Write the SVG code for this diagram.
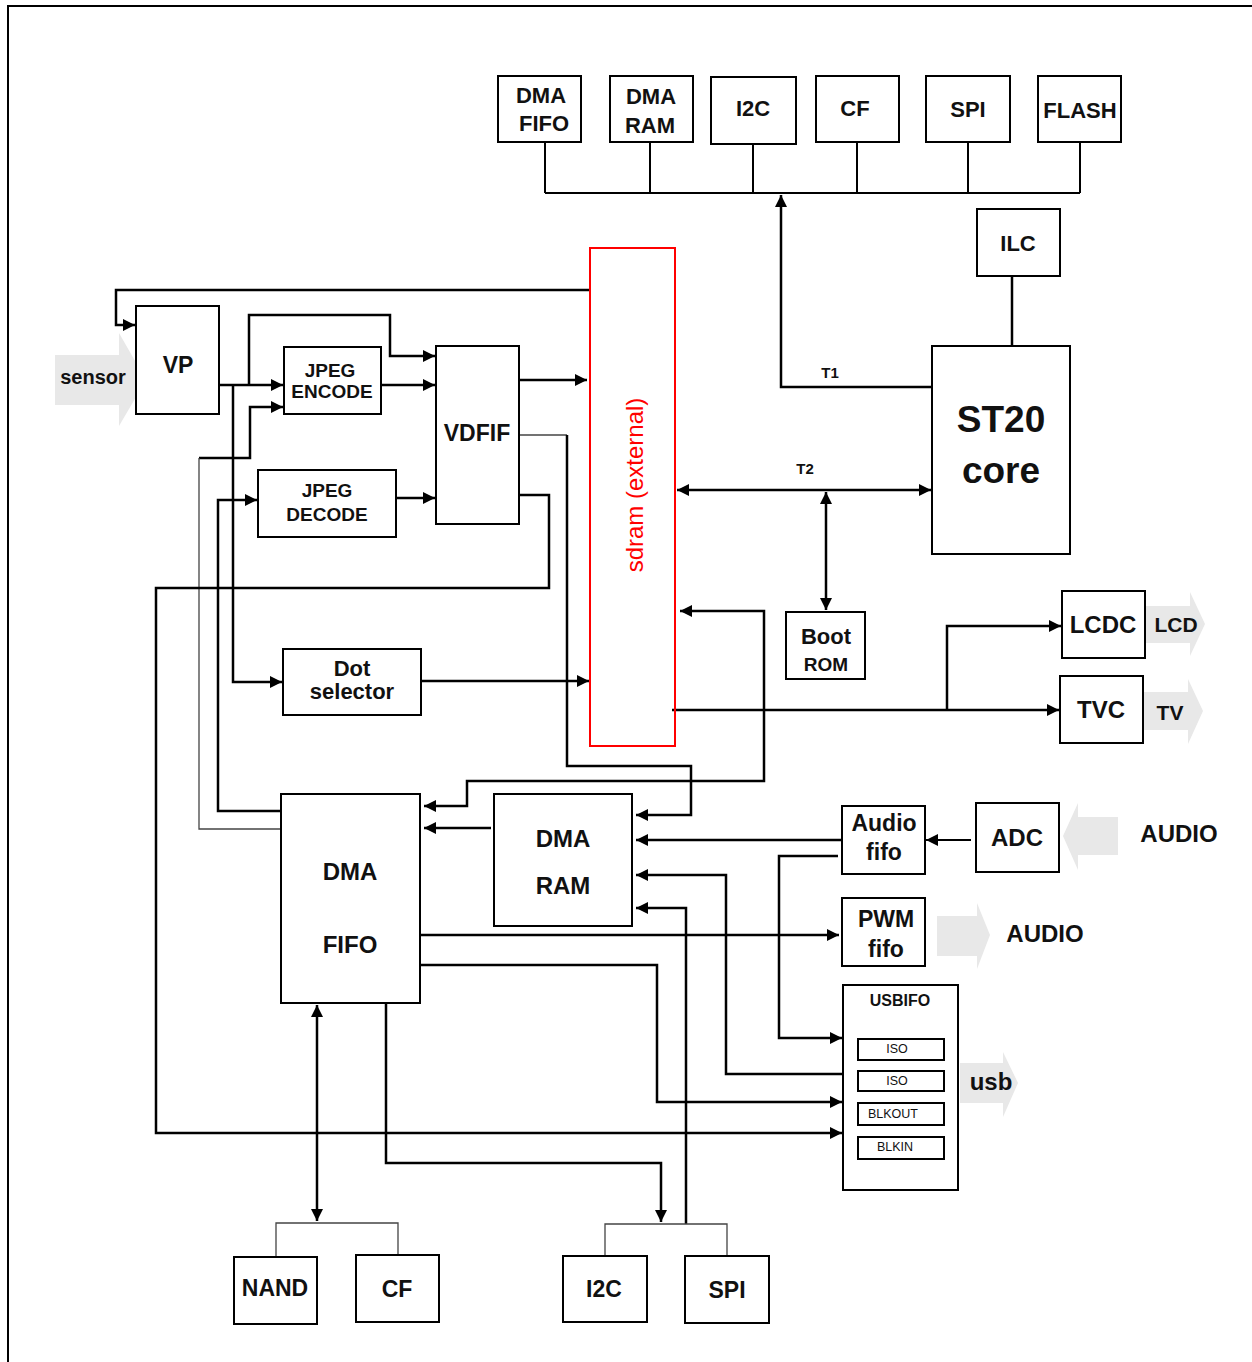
<svg xmlns="http://www.w3.org/2000/svg" width="1252" height="1362" viewBox="0 0 1252 1362">
<style>
text{font-family:"Liberation Sans",Arial,sans-serif;font-weight:bold;fill:#111;text-anchor:middle}
.box{fill:#fff;stroke:#000;stroke-width:2}
.sub{fill:#fff;stroke:#000;stroke-width:2}
.c{fill:none;stroke:#000;stroke-width:2.5}
.thin{fill:none;stroke:#444;stroke-width:1.3}
.ga{fill:#e8e8e8;stroke:none}
.a{marker-end:url(#ah)}
.aa{marker-start:url(#ah);marker-end:url(#ah)}
.t22{font-size:22px}
.t24{font-size:24px}
</style>
<defs>
<marker id="ah" markerUnits="userSpaceOnUse" markerWidth="13" markerHeight="12" refX="12" refY="6" orient="auto-start-reverse" viewBox="0 0 13 12">
<path d="M0,0 L12,6 L0,12 z" fill="#000"/>
</marker>
</defs>
<rect width="1252" height="1362" fill="#fff"/>
<path d="M8,1362 V6 H1252" fill="none" stroke="#000" stroke-width="2"/>

<!-- gray signal arrows -->
<g id="sensor-arrow"><polygon class="ga" points="55,355 119,355 119,333 146,380 119,426 119,405 55,405"/><text x="93" y="384" style="font-size:20px">sensor</text></g>
<g id="lcd-arrow"><polygon class="ga" points="1146,606 1190,606 1190,592 1205,624 1190,656 1190,643 1146,643"/></g>
<g id="tv-arrow"><polygon class="ga" points="1142,692 1188,692 1188,679 1203,711 1188,744 1188,730 1142,730"/></g>
<g id="audio-in-arrow"><polygon class="ga" points="1118,817 1078,817 1078,803 1063,836 1078,870 1078,855 1118,855"/></g>
<g id="audio-out-arrow"><polygon class="ga" points="937,916 977,916 977,903 990,935 977,969 977,956 937,956"/></g>
<g id="usb-arrow"><polygon class="ga" points="960,1063 1003,1063 1003,1052 1018,1083 1003,1117 1003,1103 960,1103"/></g>

<g id="connectors">
<path class="c" d="M545,193 H1080 M545,142 V193 M650,142 V193 M753,144 V193 M857,142 V193 M968,142 V193 M1080,142 V193" style="stroke-width:2"/>
<path class="c a" d="M932,387 H781 V195"/>
<path class="c" d="M1012,276 V346"/>
<path class="c aa" d="M677,490 H931"/>
<path class="c aa" d="M826,492 V610"/>
<path class="c a" d="M590,290 H116 V325 H135"/>
<path class="c a" d="M217,385 H283"/>
<path class="c a" d="M249,385 V315 H390 V356 H435"/>
<path class="c a" d="M233,385 V682 H282"/>
<path class="c a" d="M199,458 H250 V407 H283"/>
<path class="thin" d="M281,829 H199 V458"/>
<path class="c a" d="M281,811 H218 V500 H257"/>
<path class="c a" d="M381,385 H435"/>
<path class="c a" d="M396,498 H435"/>
<path class="c a" d="M519,380 H587"/>
<path class="thin" d="M519,435 H567"/>
<path class="c a" d="M567,435 V766 H691 V815 H636"/>
<path class="c a" d="M519,495 H549 V588 H156 V1133 H842"/>
<path class="c a" d="M421,681 H589"/>
<path class="c a" d="M672,710 H1059"/>
<path class="c a" d="M947,710 V626 H1061"/>
<path class="c aa" d="M680,611 H764 V781 H467 V806 H424"/>
<path class="c a" d="M491,828 H424"/>
<path class="c a" d="M843,840 H636"/>
<path class="c a" d="M838,856 H779 V1038 H842"/>
<path class="c a" d="M843,1074 H726 V875 H636"/>
<path class="c a" d="M686,1224 V908 H636"/>
<path class="c a" d="M420,935 H839"/>
<path class="c a" d="M420,965 H657 V1102 H842"/>
<path class="c aa" d="M317,1005 V1221"/>
<path class="c a" d="M386,1003 V1163 H661 V1222"/>
<path class="c a" d="M971,840 H926" style="stroke-width:2"/>
<path class="thin" d="M276,1257 V1223 H398 V1255"/>
<path class="thin" d="M605,1257 V1224 H727 V1256"/>
</g>

<g id="dma-fifo-top"><rect class="box" x="498" y="76" width="83" height="66"/><text class="t22" x="541" y="103">DMA</text><text class="t22" x="544" y="131">FIFO</text></g>
<g id="dma-ram-top"><rect class="box" x="610" y="76" width="83" height="66"/><text class="t22" x="651" y="104">DMA</text><text class="t22" x="650" y="133">RAM</text></g>
<g id="i2c-top"><rect class="box" x="711" y="77" width="85" height="67"/><text class="t22" x="753" y="116">I2C</text></g>
<g id="cf-top"><rect class="box" x="816" y="76" width="83" height="66"/><text class="t22" x="855" y="116">CF</text></g>
<g id="spi-top"><rect class="box" x="926" y="76" width="84" height="66"/><text class="t22" x="968" y="117">SPI</text></g>
<g id="flash-top"><rect class="box" x="1038" y="76" width="83" height="66"/><text class="t22" x="1080" y="118">FLASH</text></g>
<g id="ilc"><rect class="box" x="977" y="209" width="83" height="67"/><text class="t22" x="1018" y="251">ILC</text></g>
<g id="st20"><rect class="box" x="932" y="346" width="138" height="208"/><text x="1001" y="432" style="font-size:37px">ST20</text><text x="1001" y="483" style="font-size:37px">core</text></g>
<text x="830" y="378" style="font-size:15px">T1</text>
<text x="805" y="474" style="font-size:15px">T2</text>
<g id="boot-rom"><rect class="box" x="786" y="612" width="79" height="67"/><text class="t22" x="826" y="644">Boot</text><text x="826" y="671" style="font-size:19px">ROM</text></g>
<g id="sdram"><rect x="590" y="248" width="85" height="498" fill="none" stroke="#f00" stroke-width="2"/><text transform="translate(643,485) rotate(-90)" style="font-size:24px;font-weight:normal;fill:#f00">sdram (external)</text></g>
<g id="vp"><rect class="box" x="136" y="306" width="83" height="108"/><text x="178" y="373" style="font-size:23px">VP</text></g>
<g id="jpeg-encode"><rect class="box" x="284" y="347" width="97" height="67"/><text x="330" y="377" style="font-size:19px">JPEG</text><text x="332" y="398" style="font-size:19px">ENCODE</text></g>
<g id="jpeg-decode"><rect class="box" x="258" y="470" width="138" height="67"/><text x="327" y="497" style="font-size:19px">JPEG</text><text x="327" y="521" style="font-size:19px">DECODE</text></g>
<g id="vdfif"><rect class="box" x="436" y="346" width="83" height="178"/><text x="477" y="441" style="font-size:23px">VDFIF</text></g>
<g id="dot-selector"><rect class="box" x="283" y="649" width="138" height="66"/><text class="t22" x="352" y="676">Dot</text><text class="t22" x="352" y="699">selector</text></g>
<g id="lcdc"><rect class="box" x="1062" y="591" width="83" height="67"/><text class="t24" x="1103" y="633">LCDC</text></g>
<text x="1176" y="632" style="font-size:21px">LCD</text>
<g id="tvc"><rect class="box" x="1060" y="676" width="83" height="67"/><text class="t24" x="1101" y="718">TVC</text></g>
<text x="1170" y="720" style="font-size:21px">TV</text>
<g id="dma-ram"><rect class="box" x="494" y="794" width="138" height="132"/><text class="t24" x="563" y="847">DMA</text><text class="t24" x="563" y="894">RAM</text></g>
<g id="dma-fifo"><rect class="box" x="281" y="794" width="139" height="209"/><text class="t24" x="350" y="880">DMA</text><text class="t24" x="350" y="953">FIFO</text></g>
<g id="audio-fifo"><rect class="box" x="842" y="806" width="83" height="68"/><text x="884" y="831" style="font-size:23px">Audio</text><text x="884" y="860" style="font-size:23px">fifo</text></g>
<g id="adc"><rect class="box" x="976" y="803" width="83" height="69"/><text class="t24" x="1017" y="846">ADC</text></g>
<text class="t24" x="1179" y="842">AUDIO</text>
<g id="pwm-fifo"><rect class="box" x="842" y="898" width="83" height="68"/><text x="886" y="927" style="font-size:23px">PWM</text><text x="886" y="957" style="font-size:23px">fifo</text></g>
<text class="t24" x="1045" y="942">AUDIO</text>
<g id="usbifo"><rect class="box" x="843" y="985" width="115" height="205"/><text x="900" y="1006" style="font-size:16px">USBIFO</text>
<rect class="sub" x="858" y="1039" width="86" height="21"/><text x="897" y="1053" style="font-size:12.5px;font-weight:normal">ISO</text>
<rect class="sub" x="858" y="1071" width="86" height="20"/><text x="897" y="1085" style="font-size:12.5px;font-weight:normal">ISO</text>
<rect class="sub" x="858" y="1103" width="86" height="22"/><text x="893" y="1118" style="font-size:12.5px;font-weight:normal">BLKOUT</text>
<rect class="sub" x="858" y="1137" width="86" height="22"/><text x="895" y="1151" style="font-size:12.5px;font-weight:normal">BLKIN</text></g>
<text class="t24" x="991" y="1090">usb</text>
<g id="nand"><rect class="box" x="234" y="1257" width="83" height="67"/><text x="275" y="1296" style="font-size:23px">NAND</text></g>
<g id="cf-bottom"><rect class="box" x="356" y="1255" width="83" height="67"/><text x="397" y="1297" style="font-size:23px">CF</text></g>
<g id="i2c-bottom"><rect class="box" x="563" y="1256" width="84" height="66"/><text x="604" y="1297" style="font-size:23px">I2C</text></g>
<g id="spi-bottom"><rect class="box" x="685" y="1256" width="84" height="67"/><text x="727" y="1298" style="font-size:23px">SPI</text></g>
</svg>
